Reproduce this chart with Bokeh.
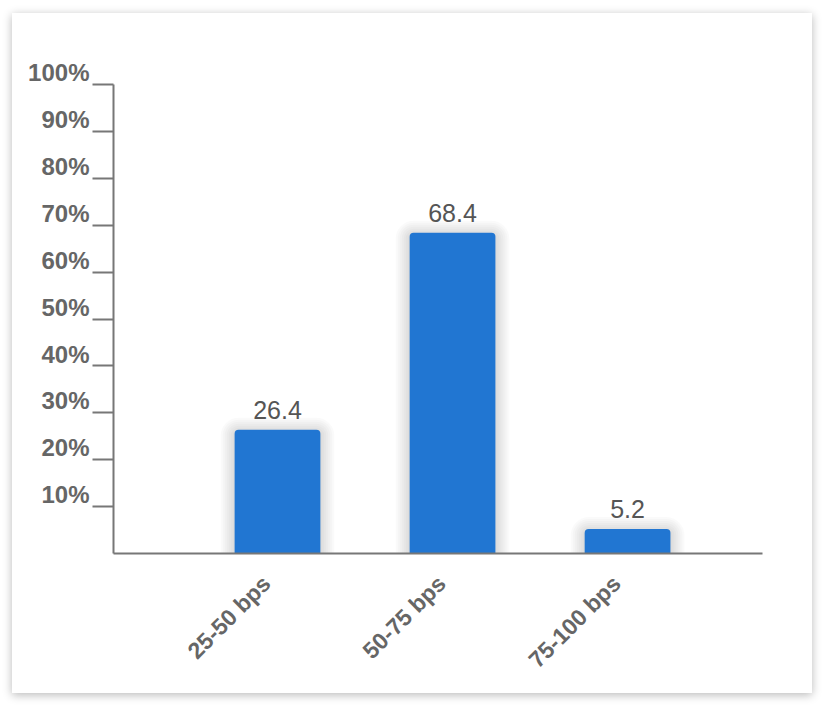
from math import pi
from bokeh.plotting import figure
from bokeh.models import ColumnDataSource, FixedTicker, LabelSet, Range1d
from bokeh.core.properties import value
from bokeh.embed import file_html
from bokeh.resources import INLINE

# ---- data ----
categories = ["25-50 bps", "50-75 bps", "75-100 bps"]
percentages = [26.4, 68.4, 5.2]
y_ticks = [10, 20, 30, 40, 50, 60, 70, 80, 90, 100]
y_tick_labels = ["10%", "20%", "30%", "40%", "50%", "60%", "70%", "80%", "90%", "100%"]

# ---- layout constants ----
W, H = 800, 680
BL, BT, BR, BB = 101, 71, 50, 140
FRAME_W = W - BL - BR
FRAME_H = H - BT - BB
X_START, X_END = 0.063, 3.771
BAR_W = 0.49
FONT = "Liberation Sans"
BAR_COLOR = "#2176d2"
AXIS_COLOR = "#777777"
LABEL_SHIFT_PX = 11  # move rotated category labels left of bar centre

xs = [i + 1 for i in range(len(categories))]
src = ColumnDataSource(dict(x=xs, top=percentages,
                            label=[f"{v:.1f}" for v in percentages]))

p = figure(width=W, height=H, output_backend="svg", toolbar_location=None,
           x_range=Range1d(X_START, X_END), y_range=Range1d(0, 100),
           min_border_left=BL, min_border_top=BT, min_border_right=BR,
           min_border_bottom=BB)
p.styles = {"box-shadow": "0 2px 9px rgba(0,0,0,0.28)",
            "margin-left": "12px", "margin-top": "13px"}
p.outline_line_color = None
p.background_fill_color = "white"
p.border_fill_color = "white"
p.xgrid.visible = False
p.ygrid.visible = False

# soft shadow behind bars (layered translucent blocks)
px_x = (X_END - X_START) / FRAME_W
px_y = 100.0 / FRAME_H
for k in range(1, 8):
    s = 2 * k
    p.vbar(x=xs, top=[t + (s - 2) * px_y for t in percentages], bottom=0,
           width=BAR_W + 2 * s * px_x,
           fill_color="black", fill_alpha=0.018, line_color=None,
           border_radius=(4 + s, 4 + s, 0, 0))

p.vbar(x="x", top="top", bottom=0, width=BAR_W, source=src,
       fill_color=BAR_COLOR, line_color=None, border_radius=(4, 4, 0, 0))

# value labels
p.add_layout(LabelSet(x="x", y="top", text="label", source=src,
                      text_align="center", text_baseline="alphabetic",
                      y_offset=11, text_font=value(FONT),
                      text_font_size="25px", text_color="#555555"))

# x axis
xa = p.xaxis[0]
label_ticks = [x - LABEL_SHIFT_PX * px_x for x in xs]
xa.ticker = FixedTicker(ticks=label_ticks)
xa.major_label_overrides = {t: c for t, c in zip(label_ticks, categories)}
xa.major_label_orientation = pi / 4
xa.major_tick_out = 0
xa.major_tick_in = 0
xa.minor_tick_out = 0
xa.minor_tick_in = 0
xa.axis_line_color = AXIS_COLOR
xa.axis_line_width = 2
xa.major_label_standoff = 26
xa.major_label_text_font = FONT
xa.major_label_text_font_style = "bold"
xa.major_label_text_font_size = "23px"
xa.major_label_text_color = "#666666"

# y axis: labels sit above their tick (extra empty line lifts the text)
ya = p.yaxis[0]
ya.ticker = FixedTicker(ticks=y_ticks)
ya.major_label_overrides = {v: lab + "\n" for v, lab in zip(y_ticks, y_tick_labels)}
ya.major_tick_out = 21
ya.major_tick_in = 0
ya.minor_tick_out = 0
ya.minor_tick_in = 0
ya.major_tick_line_color = AXIS_COLOR
ya.major_tick_line_width = 2
ya.axis_line_color = AXIS_COLOR
ya.axis_line_width = 2
ya.major_label_standoff = 3
ya.major_label_text_font = FONT
ya.major_label_text_font_style = "bold"
ya.major_label_text_font_size = "24px"
ya.major_label_text_line_height = 0.88
ya.major_label_text_color = "#666666"

open("out.html", "w").write(file_html(p, INLINE))
